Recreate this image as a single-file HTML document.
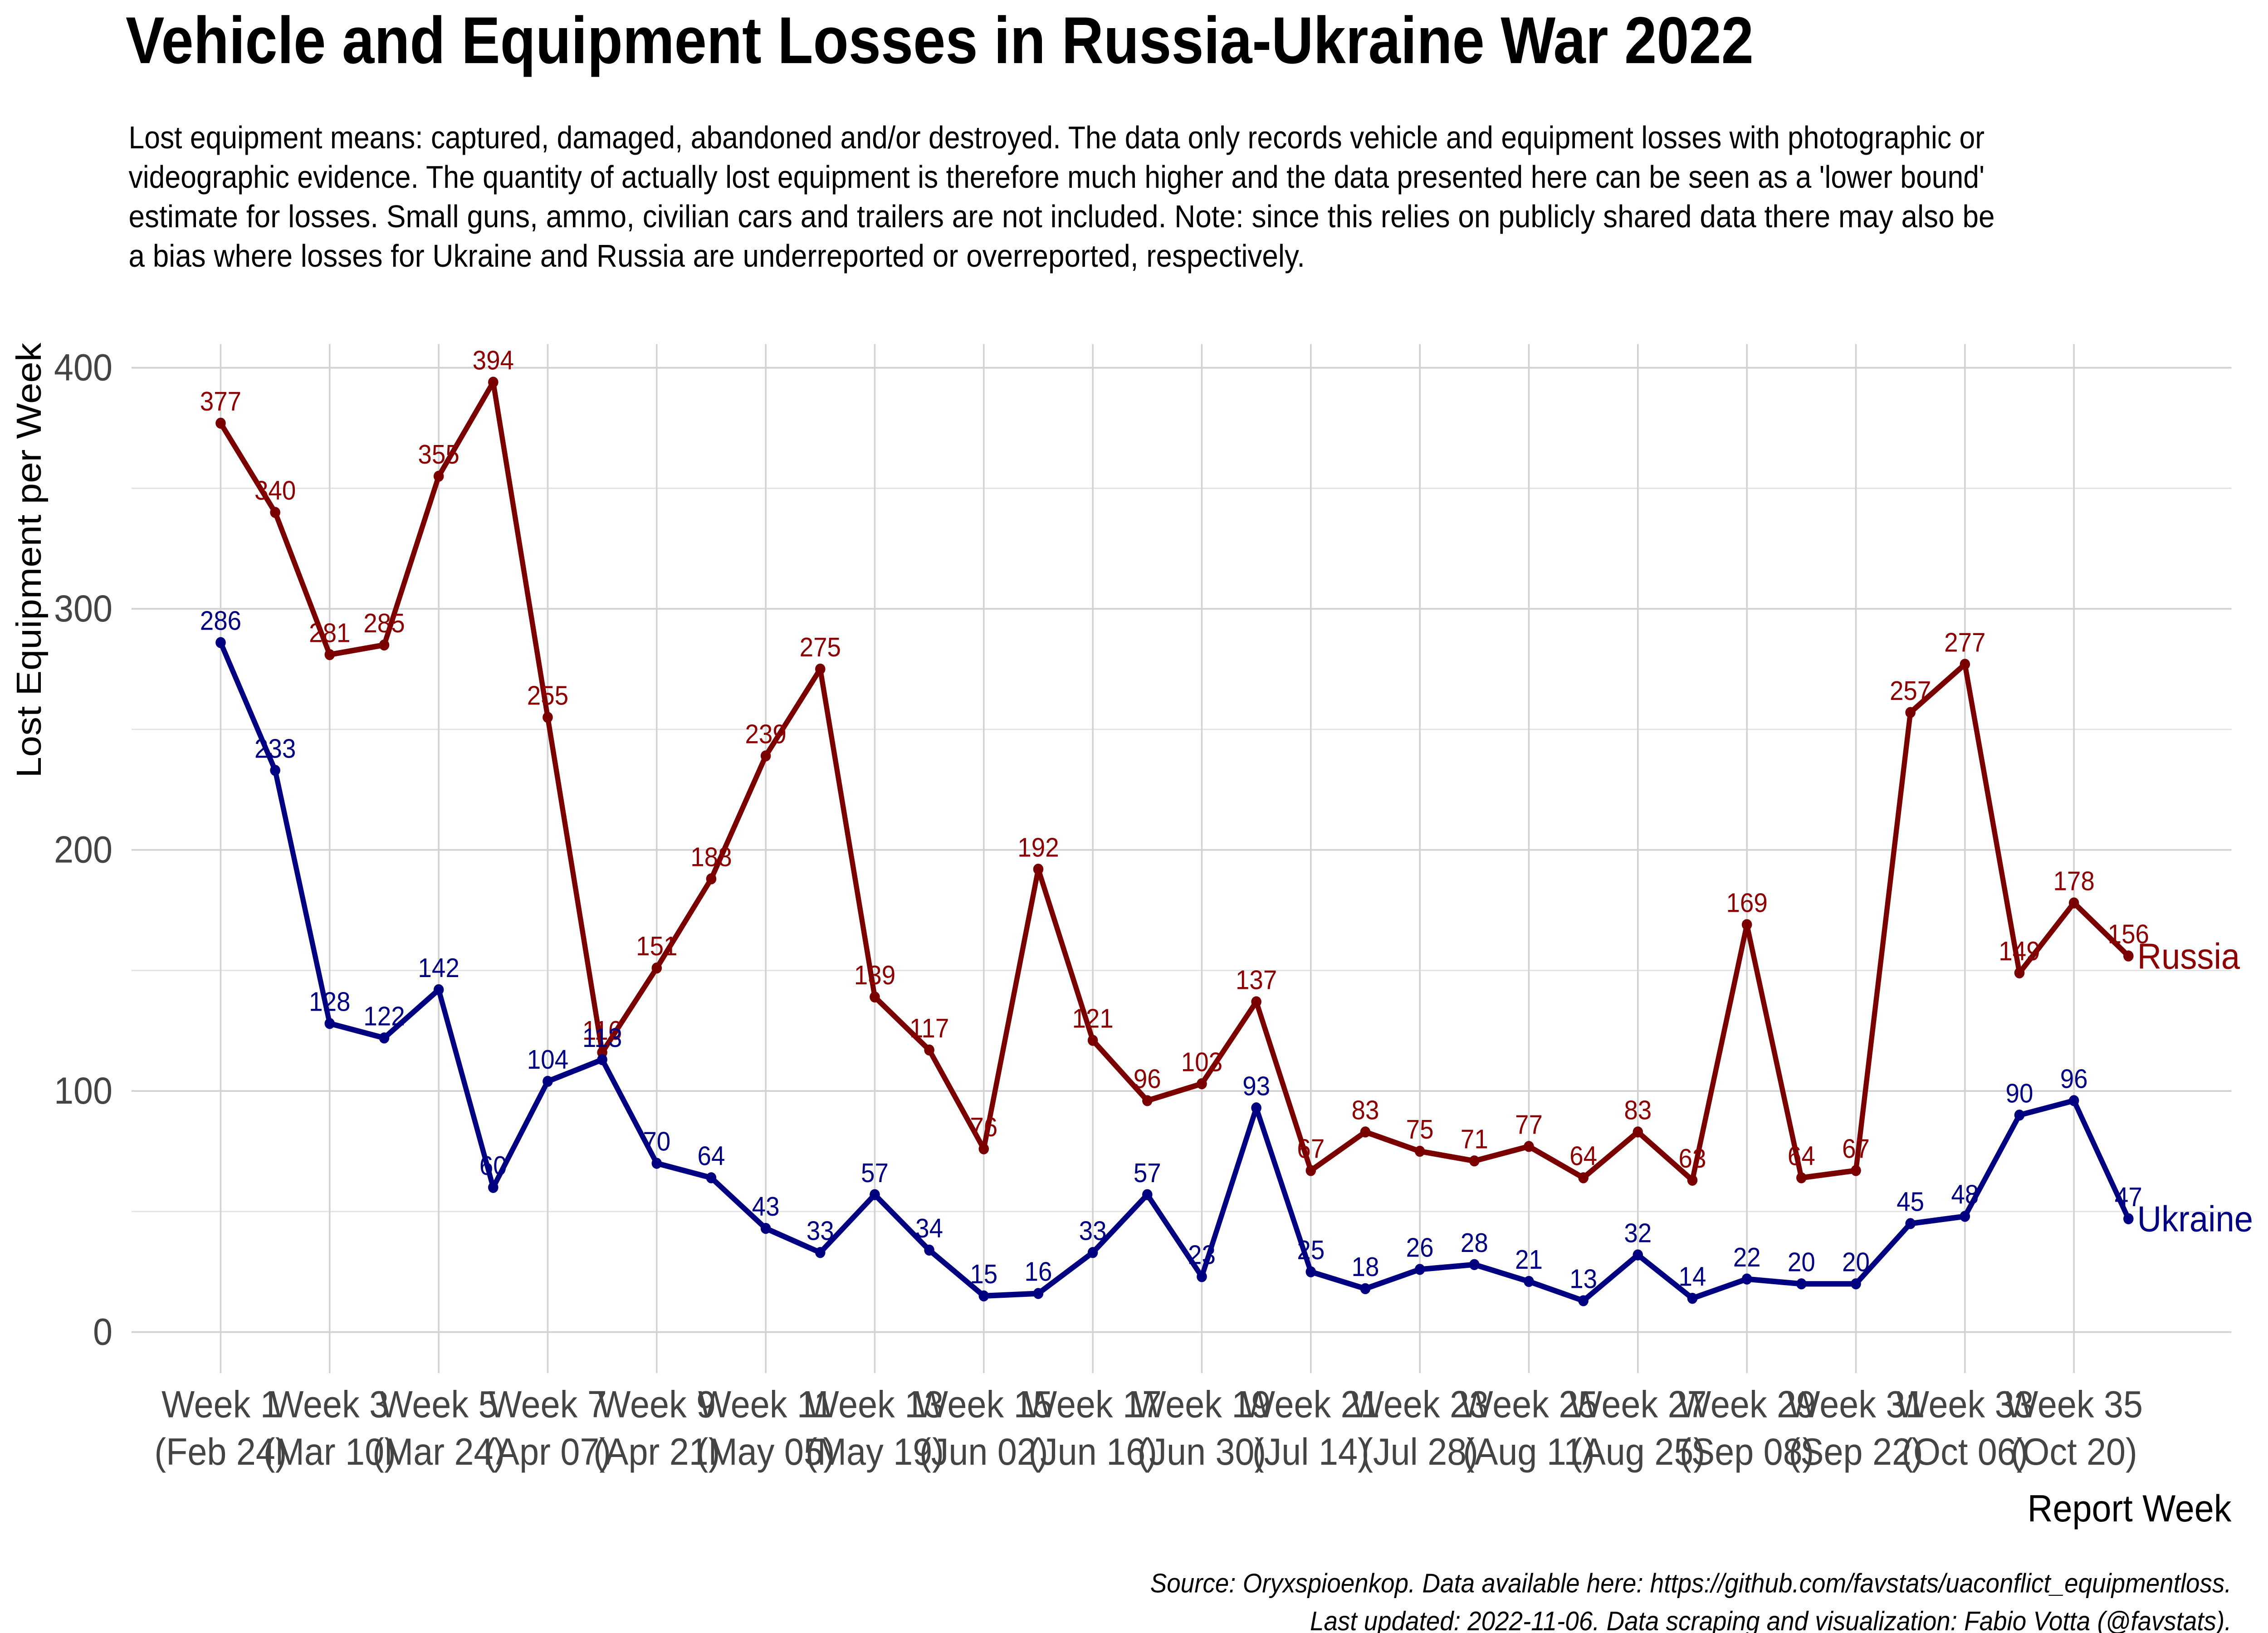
<!DOCTYPE html>
<html><head><meta charset="utf-8"><style>
html,body{margin:0;padding:0;background:#fff;width:100%;height:100%;overflow:hidden;}
svg{display:block;width:100vw;height:100vh;}
text{font-family:"Liberation Sans Narrow","Liberation Sans",sans-serif;}
</style></head><body>
<svg id="chart" viewBox="0 0 1552 1034.67" preserveAspectRatio="none" xmlns="http://www.w3.org/2000/svg">
<rect x="0" y="0" width="1552" height="1035" fill="#fff"/>
<text x="86" y="40" font-size="42" font-weight="bold" textLength="1114" lengthAdjust="spacingAndGlyphs">Vehicle and Equipment Losses in Russia-Ukraine War 2022</text>
<g font-size="20" fill="#000">
<text x="88" y="94" textLength="1270" lengthAdjust="spacingAndGlyphs">Lost equipment means: captured, damaged, abandoned and/or destroyed. The data only records vehicle and equipment losses with photographic or</text>
<text x="88" y="119" textLength="1270" lengthAdjust="spacingAndGlyphs">videographic evidence. The quantity of actually lost equipment is therefore much higher and the data presented here can be seen as a 'lower bound'</text>
<text x="88" y="144" textLength="1277" lengthAdjust="spacingAndGlyphs">estimate for losses. Small guns, ammo, civilian cars and trailers are not included. Note: since this relies on publicly shared data there may also be</text>
<text x="88" y="169" textLength="805" lengthAdjust="spacingAndGlyphs">a bias where losses for Ukraine and Russia are underreported or overreported, respectively.</text>
</g>
<g id="grid"></g>
<g id="yticks" font-size="24" fill="#444" text-anchor="end"></g>
<g id="xticks" font-size="24" fill="#444" text-anchor="middle"></g>
<g id="series"></g>
<text transform="translate(28,355) rotate(-90)" font-size="24" text-anchor="middle">Lost Equipment per Week</text>
<text x="1527" y="964" font-size="24" text-anchor="end">Report Week</text>
<g font-size="17" font-style="italic" text-anchor="end">
<text x="1527" y="1009">Source: Oryxspioenkop. Data available here: https://github.com/favstats/uaconflict_equipmentloss.</text>
<text x="1527" y="1033">Last updated: 2022-11-06.  Data scraping and visualization: Fabio Votta (@favstats).</text>
</g>
</svg>
<script>
const weeks = Array.from({length:36},(_,i)=>i+1);
const russia = [377,340,281,285,355,394,255,116,151,188,239,275,139,117,76,192,121,96,103,137,67,83,75,71,77,64,83,63,169,64,67,257,277,149,178,156];
const ukraine = [286,233,128,122,142,60,104,113,70,64,43,33,57,34,15,16,33,57,23,93,25,18,26,28,21,13,32,14,22,20,20,45,48,90,96,47];
const yTicks = [0,100,200,300,400];
const xTickWeeks = [1,3,5,7,9,11,13,15,17,19,21,23,25,27,29,31,33,35];
const xTickDates = ["Feb 24","Mar 10","Mar 24","Apr 07","Apr 21","May 05","May 19","Jun 02","Jun 16","Jun 30","Jul 14","Jul 28","Aug 11","Aug 25","Sep 08","Sep 22","Oct 06","Oct 20"];

const NS="http://www.w3.org/2000/svg";
const X = w => 151 + (w-1)*37.3;
const Y = v => 844 - v*1.5275;
function mk(tag, attrs, parent){const e=document.createElementNS(NS,tag);for(const k in attrs)e.setAttribute(k,attrs[k]);parent.appendChild(e);return e;}
const grid=document.getElementById('grid');
for(let v=0; v<=400; v+=50){
  const l=mk('line',{x1:90,x2:1527,y1:Y(v),y2:Y(v),stroke:v%100?'#e3e3e3':'#d2d2d2','stroke-width':v%100?0.8:1.1},grid);
  
  
}
xTickWeeks.forEach(w=>{
  const l=mk('line',{x1:X(w),x2:X(w),y1:218,y2:870,stroke:'#d2d2d2','stroke-width':1.1},grid);
  
  
});
const yt=document.getElementById('yticks');
yTicks.forEach(v=>{
  const t=mk('text',{x:77,y:Y(v)+8},yt);t.textContent=v;
  
  
});
const xt=document.getElementById('xticks');
xTickWeeks.forEach((w,i)=>{
  const t=mk('text',{x:X(w),y:898},xt);t.textContent='Week '+w;
  
  
  const t2=mk('text',{x:X(w),y:928},xt);t2.textContent='('+xTickDates[i]+')';
  
  
});
const sg=document.getElementById('series');
function series(vals,color,name,labelColor){
  const g=mk('g',{},sg);
  
  
  const pts=vals.map((v,i)=>X(weeks[i])+','+Y(v)).join(' ');
  const pl=mk('polyline',{points:pts,fill:'none',stroke:color,'stroke-width':3.5,'stroke-linejoin':'round'},g);
  
  
  vals.forEach((v,i)=>{
    const c=mk('circle',{cx:X(weeks[i]),cy:Y(v),r:3.5,fill:color},g);
    
    
    const t=mk('text',{x:X(weeks[i]),y:Y(v)-8,'font-size':17,fill:labelColor,'text-anchor':'middle','font-family':'Liberation Sans, sans-serif'},g);
    t.textContent=v;
    
    
  });
  const last=vals.length-1;
  const e=mk('text',{x:X(weeks[last])+6,y:Y(vals[last])+8,'font-size':23,fill:labelColor,'font-family':'Liberation Sans, sans-serif'},g);
  e.textContent=name==='russia'?'Russia':'Ukraine';
  
  
}
series(russia,'#7a0000','russia','#8b0000');
series(ukraine,'#000080','ukraine','#000080');
</script>
</body></html>
